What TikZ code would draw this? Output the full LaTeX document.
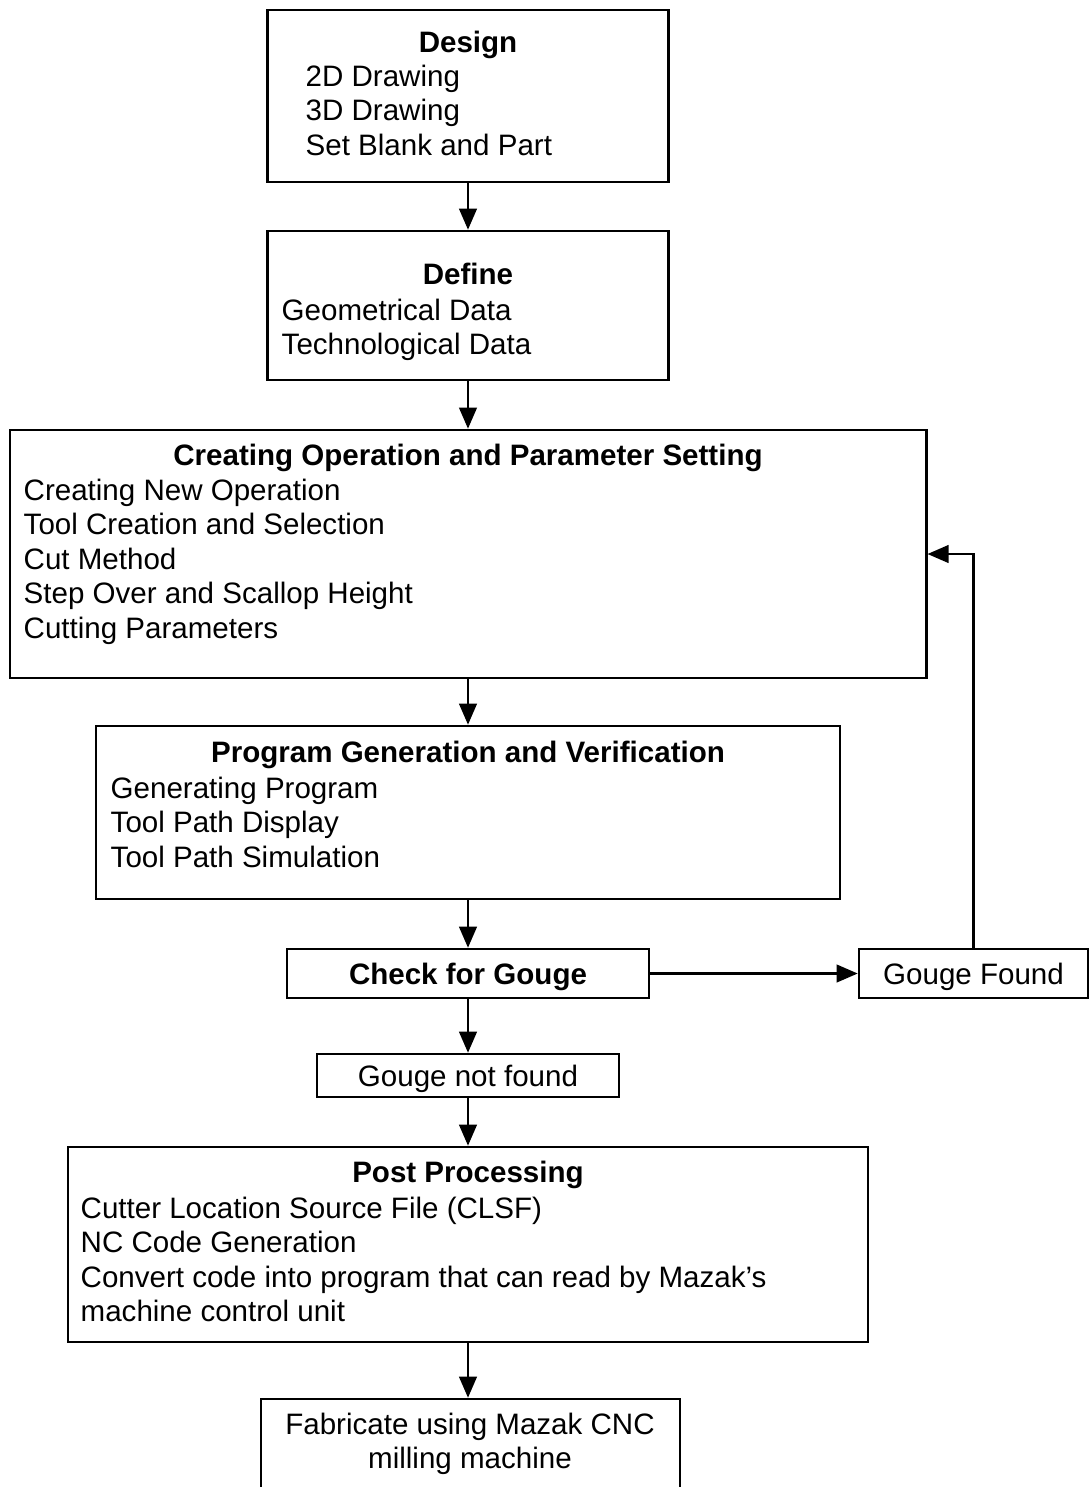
\documentclass[tikz,border=0pt]{standalone}
\usepackage{fontspec}
\setmainfont{Liberation Sans}
\usetikzlibrary{arrows.meta}
\begin{document}
\begin{tikzpicture}[x=0.01cm, y=-0.01cm,
  font=\fontsize{8.4}{9.8}\selectfont,
  block/.style={rectangle, draw=black, line width=0.7pt, inner sep=0pt},
  title/.style={anchor=base, inner sep=0pt, font=\fontsize{8.4}{9.8}\selectfont\bfseries},
  items/.style={anchor=base west, inner sep=0pt, align=left},
  arr/.style={-{Triangle[length=6pt,width=5pt]}, line width=0.7pt}]
\useasboundingbox (0,0) rectangle (1090,1487);

% Design
\node (design) [block, minimum width=4.01cm, minimum height=1.72cm] at (468,96) {};
\node (designT) [title] at (468,52) {Design};
\node (designL) [items] at (305,155) {2D Drawing\\3D Drawing\\Set Blank and Part};

% Define
\node (define) [block, minimum width=4.01cm, minimum height=1.49cm] at (468,305.5) {};
\node (defineT) [title] at (468,284) {Define};
\node (defineL) [items] at (281,354.5) {Geometrical Data\\Technological Data};

% Creating operation
\node (creating) [block, minimum width=9.16cm, minimum height=2.48cm] at (468,554) {};
\node (creatingT) [title] at (468,465) {Creating Operation and Parameter Setting};
\node (creatingL) [items] at (23,638) {Creating New Operation\\Tool Creation and Selection\\Cut Method\\Step Over and Scallop Height\\Cutting Parameters};

% Program generation
\node (program) [block, minimum width=7.44cm, minimum height=1.73cm] at (468,812.5) {};
\node (programT) [title] at (468,762) {Program Generation and Verification};
\node (programL) [items] at (110,867) {Generating Program\\Tool Path Display\\Tool Path Simulation};

% Gouge check
\node (check) [block, text depth=0pt, minimum width=3.62cm, minimum height=0.49cm, font=\fontsize{8.4}{9.8}\selectfont\bfseries] at (468,973.5) {Check for Gouge};
\node (gfound) [block, text depth=0pt, minimum width=2.29cm, minimum height=0.49cm] at (973.5,973.5) {Gouge Found};
\node (gnotfound) [block, text depth=0pt, minimum width=3.02cm, minimum height=0.43cm] at (468,1075.5) {Gouge not found};

% Post processing
\node (post) [block, minimum width=8.0cm, minimum height=1.95cm] at (468,1244.5) {};
\node (postT) [title] at (468,1182) {Post Processing};
\node (postL) [items] at (80,1321.5) {Cutter Location Source File (CLSF)\\NC Code Generation\\Convert code into program that can read by Mazak’s\\machine control unit};

% Fabricate
\node (fab) [block, minimum width=4.19cm, minimum height=1.0cm] at (470.5,1449) {};
\node (fabT) [align=center, inner sep=0pt] at (470,1444) {Fabricate using Mazak CNC\\milling machine};

\draw[arr] (design) -- (define);
\draw[arr] (define) -- (creating);
\draw[arr] (creating) -- (program);
\draw[arr] (program) -- (check);
\draw[arr] (check) -- (gfound);
\draw[arr] (check) -- (gnotfound);
\draw[arr] (gnotfound) -- (post);
\draw[arr] (post) -- (post |- fab.north);
\draw[arr] (gfound.north) |- (creating.east);

\end{tikzpicture}
\end{document}
